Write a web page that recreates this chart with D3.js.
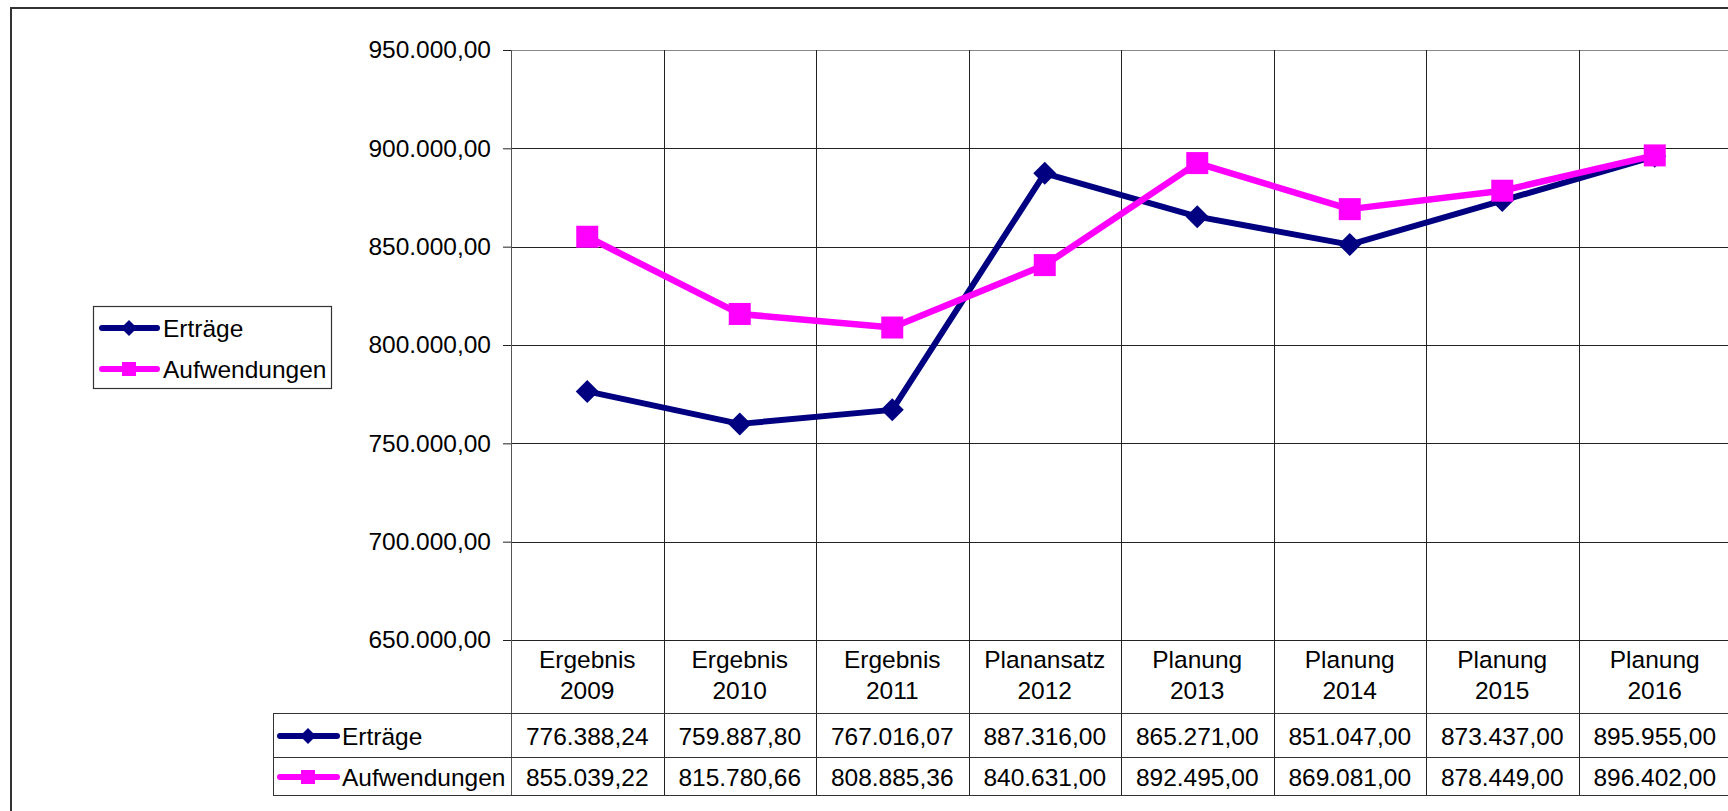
<!DOCTYPE html>
<html>
<head>
<meta charset="utf-8">
<script src="https://cdn.jsdelivr.net/npm/d3@7"></script>
<style>
  body { margin: 0; background: #fff; }
  svg { display: block; font-family: "Liberation Sans", Arial, sans-serif; }
</style>
</head>
<body>
<div id="graph-container"></div>
<script>
const width = 1728, height = 811;

// data
const categories = [
  ["Ergebnis", "2009"], ["Ergebnis", "2010"], ["Ergebnis", "2011"], ["Planansatz", "2012"],
  ["Planung", "2013"], ["Planung", "2014"], ["Planung", "2015"], ["Planung", "2016"]
];
const ertraege = [776388.24, 759887.80, 767016.07, 887316.00, 865271.00, 851047.00, 873437.00, 895955.00];
const aufwendungen = [855039.22, 815780.66, 808885.36, 840631.00, 892495.00, 869081.00, 878449.00, 896402.00];
const yTicks = [650000, 700000, 750000, 800000, 850000, 900000, 950000];

const series = [
  { name: "Erträge", values: ertraege, color: "#000080", marker: "diamond" },
  { name: "Aufwendungen", values: aufwendungen, color: "#ff00ff", marker: "square" }
];

const de = d3.formatLocale({ decimal: ",", thousands: ".", grouping: [3], currency: ["", " €"] });
const fmt = de.format(",.2f");

const plotLeft = 511, colW = 152.5;
const plotTop = 50, plotBottom = 640;
const tableTop = 713, rowMid = 757, tableBottom = 795, tableLeft = 273;
const plotRight = plotLeft + colW * categories.length;

const x = d3.scaleBand()
  .domain(d3.range(categories.length))
  .range([plotLeft, plotRight]);

const y = d3.scaleLinear()
  .domain([650000, 950000])
  .range([plotBottom, plotTop]);

const svg = d3.select("#graph-container").append("svg")
  .attr("width", width)
  .attr("height", height)
  .attr("viewBox", [0, 0, width, height]);

// outer chart border
svg.append("rect")
  .attr("x", 11).attr("y", 8)
  .attr("width", 1800).attr("height", 900)
  .attr("fill", "none").attr("stroke", "#333").attr("stroke-width", 2);

const grid = svg.append("g").attr("shape-rendering", "crispEdges");

// horizontal gridlines
grid.selectAll(".hgrid")
  .data(yTicks)
  .join("line")
  .attr("x1", plotLeft).attr("x2", plotRight)
  .attr("y1", d => Math.round(y(d)) + 0.5).attr("y2", d => Math.round(y(d)) + 0.5)
  .attr("stroke", d => d === 950000 ? "#888" : "#222");

// vertical gridlines (run down through the table)
grid.selectAll(".vgrid")
  .data(d3.range(categories.length + 1))
  .join("line")
  .attr("x1", i => Math.round(plotLeft + i * colW) + 0.5)
  .attr("x2", i => Math.round(plotLeft + i * colW) + 0.5)
  .attr("y1", plotTop).attr("y2", tableBottom)
  .attr("stroke", i => i === 0 ? "#555" : "#222");

// table lines
[tableTop, rowMid, tableBottom].forEach(yy => {
  grid.append("line")
    .attr("x1", tableLeft).attr("x2", plotRight)
    .attr("y1", yy + 0.5).attr("y2", yy + 0.5)
    .attr("stroke", "#333");
});
grid.append("line")
  .attr("x1", tableLeft + 0.5).attr("x2", tableLeft + 0.5)
  .attr("y1", tableTop).attr("y2", tableBottom)
  .attr("stroke", "#333");

// y axis
const gy = svg.append("g")
  .attr("transform", `translate(${plotLeft},0)`)
  .call(d3.axisLeft(y).tickValues(yTicks).tickFormat(fmt).tickSize(8).tickSizeOuter(0).tickPadding(12));
gy.select(".domain").remove();
gy.selectAll(".tick line").attr("stroke", "#222");
gy.selectAll(".tick text")
  .attr("font-family", "Liberation Sans, Arial, sans-serif")
  .attr("font-size", 24.5)
  .attr("fill", "#000");

// category labels
const cat = svg.append("g")
  .attr("font-size", 24.5)
  .attr("text-anchor", "middle");
categories.forEach((c, i) => {
  const cx = x(i) + x.bandwidth() / 2;
  cat.append("text").attr("x", cx).attr("y", 659).attr("dy", "0.35em").text(c[0]);
  cat.append("text").attr("x", cx).attr("y", 690).attr("dy", "0.35em").text(c[1]);
});

const markerPath = (type, r) => type === "diamond"
  ? `M0,${-r}L${r},0L0,${r}L${-r},0Z`
  : `M${-r},${-r}H${r}V${r}H${-r}Z`;

// lines and markers
const line = d3.line()
  .x((d, i) => x(i) + x.bandwidth() / 2)
  .y(d => y(d));

series.forEach(s => {
  svg.append("path")
    .datum(s.values)
    .attr("fill", "none")
    .attr("stroke", s.color)
    .attr("stroke-width", s.marker === "diamond" ? 6 : 6.5)
    .attr("stroke-linejoin", "round")
    .attr("d", line);
  svg.append("g").selectAll("path")
    .data(s.values)
    .join("path")
    .attr("transform", (d, i) => `translate(${x(i) + x.bandwidth() / 2},${y(d)})`)
    .attr("d", markerPath(s.marker, s.marker === "diamond" ? 11.5 : 11))
    .attr("fill", s.color);
});

// data table rows
const rowY = [736, 777];
series.forEach((s, k) => {
  const ry = rowY[k];
  svg.append("line")
    .attr("x1", 280).attr("x2", 337).attr("y1", ry).attr("y2", ry)
    .attr("stroke", s.color).attr("stroke-width", 6).attr("stroke-linecap", "round");
  svg.append("path")
    .attr("transform", `translate(308,${ry})`)
    .attr("d", markerPath(s.marker, s.marker === "diamond" ? 8 : 7))
    .attr("fill", s.color);
  svg.append("text")
    .attr("x", 342).attr("y", ry).attr("dy", "0.35em")
    .attr("font-size", 24.5)
    .text(s.name);
  svg.append("g").selectAll("text")
    .data(s.values)
    .join("text")
    .attr("x", (d, i) => x(i) + x.bandwidth() / 2)
    .attr("y", ry).attr("dy", "0.35em")
    .attr("text-anchor", "middle")
    .attr("font-size", 24.5)
    .text(d => fmt(d));
});

// legend
const legend = svg.append("g");
legend.append("rect")
  .attr("x", 93.5).attr("y", 306.5).attr("width", 238).attr("height", 82)
  .attr("fill", "#fff").attr("stroke", "#333").attr("stroke-width", 1.2);
const legY = [328, 369];
series.forEach((s, k) => {
  const ly = legY[k];
  legend.append("line")
    .attr("x1", 102).attr("x2", 157).attr("y1", ly).attr("y2", ly)
    .attr("stroke", s.color).attr("stroke-width", 6).attr("stroke-linecap", "round");
  legend.append("path")
    .attr("transform", `translate(129,${ly})`)
    .attr("d", markerPath(s.marker, s.marker === "diamond" ? 8 : 7))
    .attr("fill", s.color);
  legend.append("text")
    .attr("x", 163).attr("y", ly).attr("dy", "0.35em")
    .attr("font-size", 24.5)
    .text(s.name);
});
</script>
</body>
</html>
